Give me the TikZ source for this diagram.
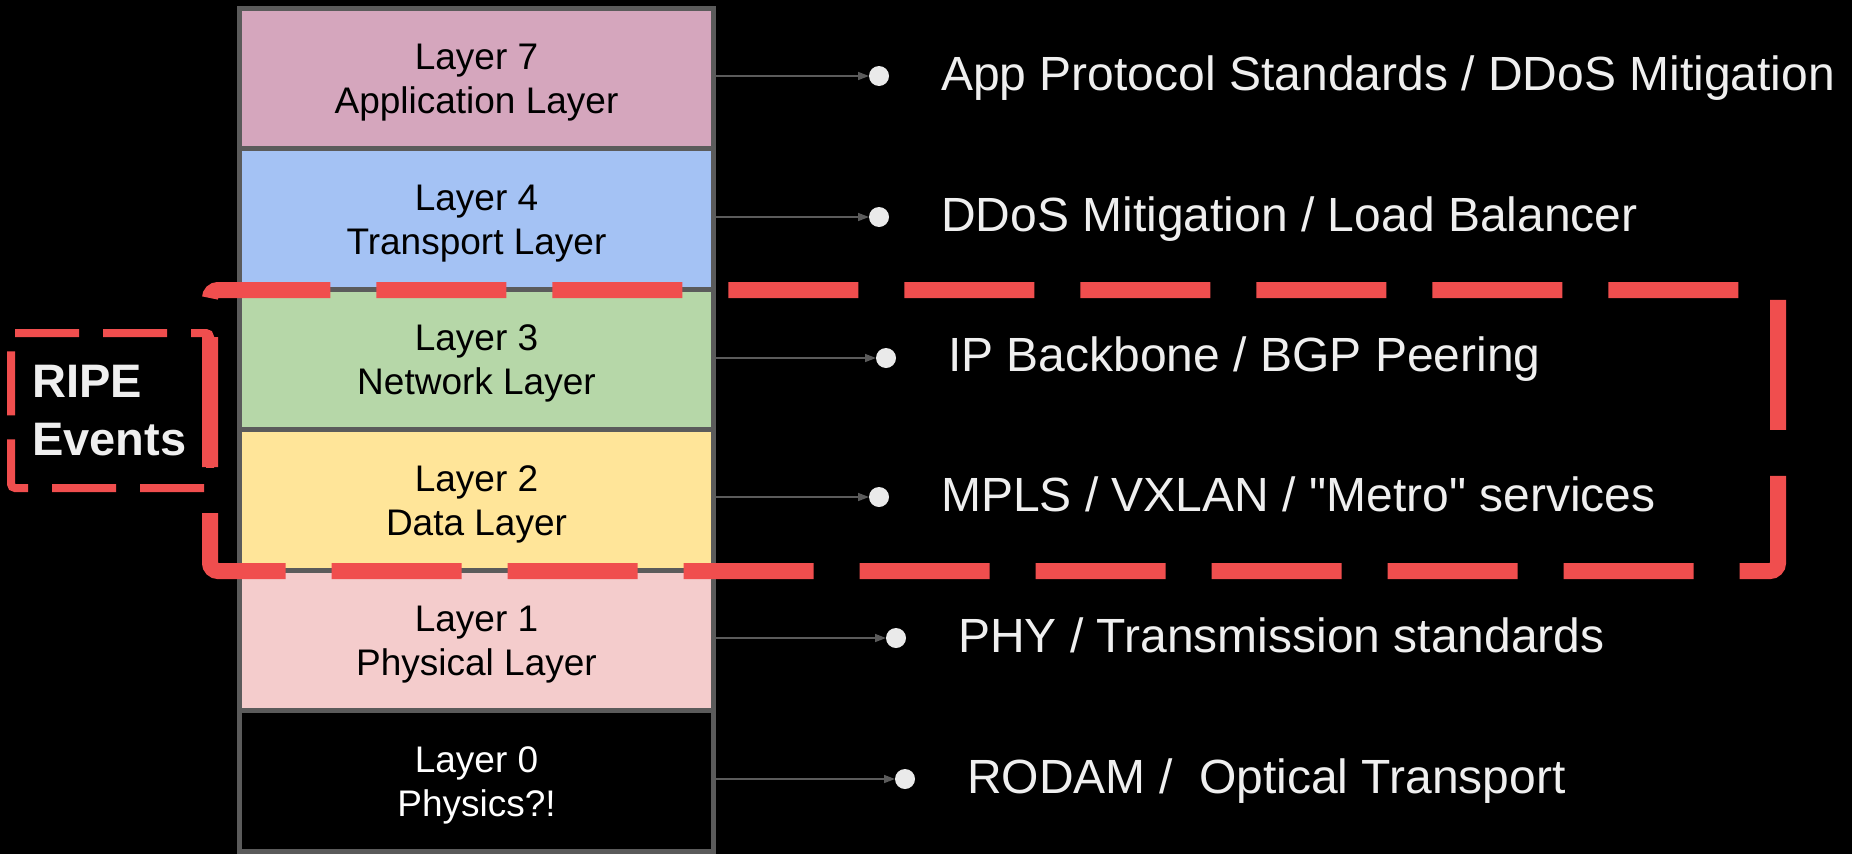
\documentclass[tikz,border=0pt]{standalone}
\usepackage{fontspec}
\setmainfont{Liberation Sans}[Ligatures=TeXOff]
\usetikzlibrary{arrows.meta}
\definecolor{bordergray}{HTML}{5B5B5B}
\definecolor{l7}{HTML}{D5A6BD}
\definecolor{l4}{HTML}{A4C2F4}
\definecolor{l3}{HTML}{B6D7A8}
\definecolor{l2}{HTML}{FFE599}
\definecolor{l1}{HTML}{F4CCCC}
\definecolor{ripered}{HTML}{F04E4E}
\definecolor{lighttext}{HTML}{EFEFEF}
\definecolor{dotgray}{HTML}{EAEAEA}
\begin{document}
\begin{tikzpicture}[x=1pt,y=-1pt,
 layerbox/.style={draw=bordergray, line width=5pt, minimum width=474pt, minimum height=140.5pt, inner sep=0pt, outer sep=0pt},
 layertext/.style={inner sep=0pt, align=center, font=\fontsize{37}{44}\selectfont, text=black},
 linkarrow/.style={draw=bordergray, line width=1.5pt, -{Triangle[length=11pt,width=8pt]}},
 dotmark/.style={circle, fill=dotgray, minimum size=20pt, inner sep=0pt, outer sep=0pt},
 service/.style={anchor=base west, inner sep=0pt, text=lighttext, font=\fontsize{48}{58}\selectfont},
 ripedash/.style={draw=ripered, line width=8pt, dash pattern=on 64pt off 24pt, rounded corners=4pt},
 groupdash/.style={draw=ripered, line width=16pt, dash pattern=on 130pt off 46pt, dash phase=137pt, rounded corners=8pt},
 plainbox/.style={inner sep=0pt, outer sep=0pt},
]
\fill[black] (0,0) rectangle (1852,854);
\useasboundingbox (0,0) rectangle (1852,854);

\node[layerbox, fill=l7] (L7) at (476.5,78.25) {};
\node[layerbox, fill=l4] (L4) at (476.5,218.75) {};
\node[layerbox, fill=l3] (L3) at (476.5,359.25) {};
\node[layerbox, fill=l2] (L2) at (476.5,499.75) {};
\node[layerbox, fill=l1] (L1) at (476.5,640.25) {};
\node[layerbox, fill=black] (L0) at (476.5,780.75) {};

\node[layertext] (t7) at ([yshift=-4.5pt]L7.center) {Layer 7\\Application Layer};
\node[layertext] (t4) at ([yshift=-4.5pt]L4.center) {Layer 4\\Transport Layer};
\node[layertext] (t3) at ([yshift=-4.5pt]L3.center) {Layer 3\\Network Layer};
\node[layertext] (t2) at ([yshift=-4.5pt]L2.center) {Layer 2\\Data Layer};
\node[layertext] (t1) at ([yshift=-4.5pt]L1.center) {Layer 1\\Physical Layer};
\node[layertext, text=white] (t0) at ([yshift=-4.5pt]L0.center) {Layer 0\\Physics?!};

\node[dotmark] (d7) at (879,76) {};
\node[dotmark] (d4) at (879,217) {};
\node[dotmark] (d3) at (886,358) {};
\node[dotmark] (d2) at (879,497) {};
\node[dotmark] (d1) at (896,638) {};
\node[dotmark] (d0) at (905,779) {};

\draw[linkarrow] (L7.east |- d7.west) -- (d7.west);
\draw[linkarrow] (L4.east |- d4.west) -- (d4.west);
\draw[linkarrow] (L3.east |- d3.west) -- (d3.west);
\draw[linkarrow] (L2.east |- d2.west) -- (d2.west);
\draw[linkarrow] (L1.east |- d1.west) -- (d1.west);
\draw[linkarrow] (L0.east |- d0.west) -- (d0.west);

\node[service] (s7) at (941,90) {App Protocol Standards / DDoS Mitigation};
\node[service] (s4) at (941,231) {DDoS Mitigation / Load Balancer};
\node[service] (s3) at (948,371) {IP Backbone / BGP Peering};
\node[service] (s2) at (941,511) {MPLS / VXLAN / "Metro" services};
\node[service] (s1) at (958,652) {PHY / Transmission standards};
\node[service] (s0) at (967,793) {RODAM / \ Optical Transport};

\node[plainbox, minimum width=199pt, minimum height=155pt] (ripebox) at (110.5,410.5) {};
\draw[ripedash] (ripebox.north west) -- (ripebox.north east) -- (ripebox.south east) -- (ripebox.south west) -- cycle;
\node[anchor=base west, inner sep=0pt, align=left, text=lighttext, font=\bfseries\fontsize{47}{58}\selectfont] (ripetext) at (32,455) {RIPE\\Events};

\node[plainbox, minimum width=1568pt, minimum height=281pt] (group) at (994,430.5) {};
\draw[groupdash] (group.north west) -- (group.south west) -- (group.south east) -- (group.north east) -- cycle;
\end{tikzpicture}
\end{document}
